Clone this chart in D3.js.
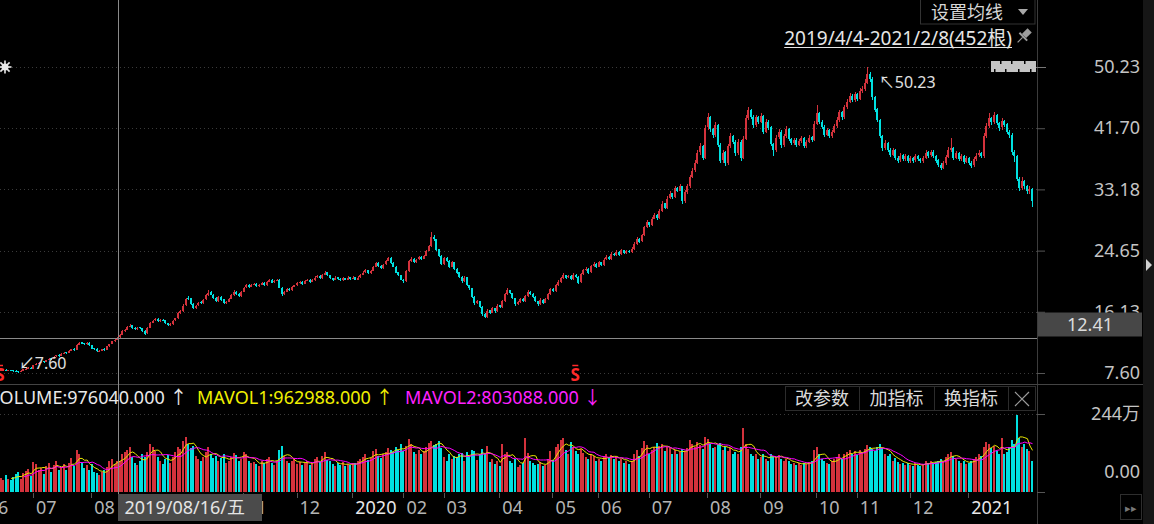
<!DOCTYPE html>
<html>
<head>
<meta charset="utf-8">
<script src="https://cdn.jsdelivr.net/npm/d3@7"></script>
<style>
html, body { margin: 0; padding: 0; background: #000; overflow: hidden; }
svg { display: block; }
text { font-family: "Noto Sans", "Noto Sans CJK SC", sans-serif; }
</style>
</head>
<body>
<svg id="chart" width="1154" height="524"></svg>
<script>
// daily bars, 2019/06/12 .. 2021/02/08 (visible part of the 452 bars)
var opens = [7.90,7.95,8.05,7.92,8.02,7.95,7.88,7.82,7.74,7.92,
8.12,8.18,8.32,8.20,8.75,8.95,9.02,9.25,9.12,9.45,
9.65,9.55,9.90,10.10,9.98,10.28,10.48,10.38,10.72,10.95,
10.85,11.55,11.85,11.72,11.58,11.80,11.45,11.05,10.95,10.58,
10.72,10.95,10.78,11.32,11.62,12.05,12.25,12.55,12.95,13.42,
13.62,14.05,14.25,13.85,13.72,13.95,13.82,13.45,13.12,13.92,
14.62,14.92,15.15,14.82,15.05,14.92,14.55,14.28,14.42,14.92,
15.22,15.95,16.25,17.05,18.10,18.00,17.25,16.62,17.02,17.45,
17.32,17.85,18.42,18.85,18.52,18.05,17.62,18.25,17.85,17.32,
17.52,17.92,18.45,18.95,18.62,18.32,18.92,19.55,19.85,19.62,
19.92,20.05,19.72,19.92,20.15,19.82,20.32,20.55,20.22,20.42,
20.55,19.45,18.62,18.92,19.32,19.12,19.62,19.82,20.12,20.32,
20.02,20.42,20.62,20.32,20.52,20.92,21.12,20.82,21.32,21.62,
21.22,20.82,20.62,20.92,20.72,20.52,20.82,20.62,20.92,20.72,
20.92,20.62,20.92,21.32,21.62,21.92,21.52,21.82,22.42,22.92,
22.52,22.22,22.72,23.22,23.62,22.92,22.42,21.62,21.22,20.62,
20.40,21.80,23.22,23.52,23.02,23.42,23.82,23.52,23.92,24.62,
25.32,26.60,26.22,24.82,23.92,22.82,23.62,23.22,22.42,23.02,
22.12,21.62,21.02,20.42,20.92,19.82,19.42,18.22,17.32,17.62,
16.82,15.82,15.42,16.32,16.02,16.62,16.22,17.02,16.82,17.62,
18.62,19.12,18.72,18.02,17.22,17.52,17.92,17.62,18.32,18.92,
18.62,18.22,17.62,17.22,17.82,17.42,17.92,18.62,19.32,19.02,
19.82,20.32,20.82,21.22,20.92,21.12,20.72,21.32,21.02,20.22,
21.42,21.92,22.12,21.62,22.52,22.82,22.42,23.02,22.62,23.42,
23.82,23.52,24.22,24.02,24.52,24.12,24.72,24.32,24.62,24.42,
24.92,25.62,26.32,25.92,26.82,27.92,28.62,28.22,29.12,29.62,
29.22,30.12,31.22,30.62,31.92,32.62,32.12,33.42,33.02,33.62,
31.52,32.82,33.62,34.92,35.82,36.92,38.32,39.22,37.62,41.82,
43.22,41.62,40.82,42.12,39.42,37.22,38.32,36.82,39.22,40.62,
39.82,38.22,39.82,37.62,40.22,43.12,44.22,43.32,42.12,43.22,
42.62,43.42,41.22,42.62,41.82,39.52,38.62,40.42,41.22,39.32,
40.62,41.62,40.22,39.62,40.12,39.42,39.92,40.32,39.22,39.82,
40.42,40.12,42.32,43.82,42.62,41.92,40.82,41.42,40.62,41.22,
42.02,42.82,43.92,43.22,44.62,45.42,46.22,45.62,46.42,45.82,
46.92,47.12,48.02,49.32,48.62,46.02,44.32,42.82,40.62,38.92,
39.62,38.72,38.02,38.62,37.62,37.22,37.92,37.42,37.82,37.12,
37.52,37.22,37.82,37.42,37.12,37.62,38.32,37.92,38.42,37.82,
37.22,36.62,36.22,36.82,37.72,38.62,38.92,37.62,38.22,37.42,
37.82,37.02,37.52,36.92,36.52,37.42,37.92,38.22,37.82,40.62,
42.02,43.12,42.62,43.52,42.42,41.82,42.72,42.22,41.22,40.82,
38.42,37.82,34.62,33.42,34.32,33.62,32.92,33.22];
var highs = [8.05,8.12,8.10,8.06,8.08,8.00,7.95,7.88,7.96,8.16,
8.28,8.38,8.40,8.78,9.00,9.14,9.28,9.32,9.48,9.70,
9.74,9.92,10.14,10.18,10.34,10.54,10.56,10.78,11.00,11.04,
11.62,11.92,11.96,11.82,11.86,11.88,11.52,11.12,11.02,10.80,
11.00,11.04,11.40,11.70,12.10,12.30,12.62,13.02,13.55,13.75,
14.15,14.40,14.35,13.95,14.05,14.05,13.90,13.55,14.00,14.75,
15.05,15.25,15.25,15.12,15.15,15.00,14.62,14.50,15.00,15.30,
16.05,16.40,17.15,18.10,18.30,18.10,17.40,17.12,17.55,17.60,
17.95,18.55,19.15,19.00,18.60,18.15,18.35,18.35,17.95,17.65,
18.05,18.55,19.10,19.05,18.70,19.05,19.65,19.95,19.95,20.05,
20.15,20.15,20.00,20.25,20.25,20.45,20.65,20.65,20.50,20.75,
20.65,19.55,19.05,19.45,19.40,19.75,19.90,20.25,20.45,20.40,
20.55,20.75,20.70,20.65,21.05,21.25,21.20,21.45,21.85,21.70,
21.30,20.90,21.05,21.00,20.80,20.95,20.90,21.05,21.00,21.05,
21.00,21.05,21.45,21.75,22.05,22.00,21.95,22.55,23.10,23.00,
22.60,22.85,23.40,23.80,23.70,23.00,22.50,21.70,21.30,20.70,
21.95,23.35,23.70,23.60,23.55,23.95,23.90,24.05,24.80,25.50,
27.24,26.80,26.30,24.90,24.00,23.80,23.70,23.30,23.20,23.10,
22.20,21.70,21.10,21.10,21.00,19.90,19.50,18.30,17.80,17.70,
16.90,15.90,16.50,16.40,16.80,16.70,17.20,17.10,17.80,18.80,
19.40,19.20,18.80,18.10,17.70,18.10,18.00,18.50,19.10,19.00,
18.70,18.30,17.70,18.00,17.90,18.10,18.80,19.50,19.40,20.00,
20.50,21.00,21.50,21.30,21.30,21.20,21.50,21.40,21.10,21.60,
22.10,22.30,22.20,22.70,23.00,22.90,23.20,23.10,23.60,24.00,
23.90,24.40,24.30,24.70,24.60,24.90,24.80,24.80,24.70,25.10,
25.80,26.50,26.40,27.00,28.10,28.90,28.70,29.30,29.90,29.70,
30.40,31.50,31.30,32.20,32.90,32.70,33.70,33.50,33.90,33.70,
33.10,33.90,35.20,36.10,37.30,38.70,39.60,39.40,42.20,43.80,
43.40,41.80,42.50,42.30,39.60,38.70,38.50,39.50,41.00,40.80,
40.00,40.20,40.00,40.60,43.50,44.70,44.40,43.50,43.60,43.40,
43.80,43.60,43.00,42.80,42.00,39.70,40.70,41.60,41.40,40.90,
42.00,41.80,40.40,40.40,40.30,40.20,40.60,40.50,40.10,40.70,
40.60,42.70,44.90,44.00,42.80,42.10,41.70,41.60,41.50,42.30,
43.20,44.20,44.10,44.90,45.80,46.60,46.40,46.80,46.60,47.30,
47.60,48.50,50.23,49.60,48.80,46.20,44.50,43.00,40.80,40.00,
39.80,38.90,38.90,38.80,37.80,38.20,38.10,38.10,38.00,37.80,
37.70,38.10,38.00,37.60,37.90,38.60,38.50,38.70,38.60,38.00,
37.40,36.80,37.10,38.00,39.10,40.30,39.10,38.50,38.40,38.10,
38.00,37.80,37.70,37.10,37.70,38.20,38.70,38.40,41.00,42.40,
43.80,43.30,43.90,43.70,42.60,43.10,42.90,42.40,41.40,41.00,
38.60,38.00,34.90,34.90,34.50,33.80,33.60,33.40];
var lows = [7.82,7.90,7.85,7.88,7.90,7.80,7.72,7.60,7.70,7.88,
8.06,8.12,8.10,8.15,8.68,8.88,8.96,9.02,9.08,9.38,
9.48,9.50,9.84,9.88,9.92,10.20,10.28,10.32,10.66,10.72,
10.80,11.46,11.62,11.50,11.52,11.40,10.94,10.82,10.52,10.50,
10.66,10.68,10.74,11.28,11.58,11.98,12.18,12.46,12.88,13.30,
13.55,13.95,13.70,13.60,13.62,13.70,13.30,12.95,13.05,13.85,
14.55,14.85,14.70,14.75,14.82,14.40,14.15,14.20,14.35,14.85,
15.15,15.85,16.15,16.95,17.80,17.05,16.45,16.50,16.95,17.15,
17.25,17.75,18.35,18.40,17.90,17.45,17.55,17.70,17.15,17.20,
17.45,17.85,18.35,18.50,18.15,18.25,18.85,19.50,19.50,19.55,
19.85,19.60,19.65,19.85,19.70,19.75,20.25,20.10,20.15,20.35,
19.40,18.30,18.50,18.85,19.00,19.05,19.55,19.75,20.05,19.90,
19.95,20.35,20.20,20.25,20.45,20.85,20.70,20.75,21.25,21.10,
20.70,20.45,20.55,20.60,20.40,20.45,20.50,20.55,20.60,20.65,
20.50,20.55,20.85,21.25,21.55,21.40,21.45,21.75,22.35,22.40,
22.10,22.15,22.65,23.15,22.80,22.30,21.50,21.10,20.50,20.10,
20.30,21.70,23.10,22.90,22.95,23.35,23.40,23.45,23.85,24.55,
25.20,26.00,24.60,23.70,22.60,22.70,23.00,22.20,22.30,21.95,
21.40,20.85,20.20,20.30,19.70,19.20,18.00,17.10,17.15,16.60,
15.60,15.20,15.30,15.80,15.90,16.00,16.10,16.60,16.70,17.50,
18.50,18.55,17.85,17.00,17.05,17.40,17.45,17.50,18.20,18.45,
18.05,17.45,17.00,17.10,17.25,17.30,17.80,18.50,18.85,18.90,
19.70,20.20,20.70,20.70,20.80,20.50,20.60,20.85,20.00,20.10,
21.30,21.80,21.45,21.50,22.40,22.25,22.30,22.45,22.50,23.30,
23.35,23.40,23.85,23.90,23.95,24.00,24.15,24.20,24.25,24.30,
24.80,25.50,25.70,25.80,26.70,27.80,28.00,28.10,29.00,28.95,
29.10,30.00,30.40,30.50,31.80,31.90,32.00,32.80,32.90,31.20,
31.30,32.60,33.40,34.70,35.60,36.70,38.00,37.30,37.40,41.50,
41.20,40.40,40.50,39.10,36.80,36.90,36.40,36.60,39.00,39.50,
37.90,38.00,37.20,37.40,40.00,42.90,43.00,41.80,41.90,42.30,
42.40,40.90,41.00,41.50,39.20,37.80,38.40,40.20,39.00,39.10,
40.40,39.90,39.30,39.40,39.10,39.20,39.70,38.90,39.00,39.60,
39.80,39.90,42.10,42.30,41.60,40.50,40.60,40.30,40.40,41.00,
41.80,42.60,42.90,43.00,44.40,45.20,45.30,45.40,45.50,45.60,
46.60,46.90,47.80,48.20,45.70,44.00,42.50,40.30,38.50,38.60,
38.40,37.70,37.80,37.30,36.90,37.00,37.10,37.20,36.80,36.90,
36.90,37.00,37.10,36.80,36.90,37.40,37.60,37.70,37.50,36.90,
36.30,35.90,36.00,36.60,37.50,38.40,37.30,37.40,37.10,37.20,
36.70,36.80,36.60,36.20,36.30,37.20,37.70,37.50,37.60,40.30,
41.70,42.20,42.30,42.10,41.30,41.50,41.90,40.90,40.30,38.00,
37.00,34.30,33.00,33.10,33.20,32.60,32.50,30.70];
var closes = [7.95,8.05,7.90,8.00,7.95,7.85,7.80,7.75,7.90,8.10,
8.20,8.30,8.15,8.70,8.90,9.05,9.20,9.10,9.40,9.60,
9.55,9.85,10.05,9.95,10.25,10.45,10.35,10.70,10.90,10.80,
11.50,11.80,11.70,11.60,11.75,11.45,11.00,10.90,10.60,10.70,
10.90,10.75,11.30,11.60,12.00,12.20,12.50,12.90,13.40,13.60,
14.00,14.20,13.80,13.70,13.90,13.80,13.40,13.10,13.90,14.60,
14.90,15.10,14.80,15.00,14.90,14.50,14.30,14.40,14.90,15.20,
15.90,16.20,17.00,17.90,18.00,17.20,16.60,17.00,17.40,17.30,
17.80,18.40,18.80,18.50,18.00,17.60,18.20,17.80,17.30,17.50,
17.90,18.40,18.90,18.60,18.30,18.90,19.50,19.80,19.60,19.90,
20.00,19.70,19.90,20.10,19.80,20.30,20.50,20.20,20.40,20.60,
19.50,18.60,18.90,19.30,19.10,19.60,19.80,20.10,20.30,20.00,
20.40,20.60,20.30,20.50,20.90,21.10,20.80,21.30,21.60,21.20,
20.80,20.60,20.90,20.70,20.50,20.80,20.60,20.90,20.70,20.90,
20.60,20.90,21.30,21.60,21.90,21.50,21.80,22.40,22.90,22.50,
22.20,22.70,23.20,23.60,22.90,22.40,21.60,21.20,20.60,20.40,
21.80,23.20,23.50,23.00,23.40,23.80,23.50,23.90,24.60,25.30,
26.50,26.20,24.80,23.90,22.80,23.60,23.20,22.40,23.00,22.10,
21.60,21.00,20.40,20.90,19.80,19.40,18.20,17.30,17.60,16.80,
15.80,15.40,16.30,16.00,16.60,16.20,17.00,16.80,17.60,18.60,
19.10,18.70,18.00,17.20,17.50,17.90,17.60,18.30,18.90,18.60,
18.20,17.60,17.20,17.80,17.40,17.90,18.60,19.30,19.00,19.80,
20.30,20.80,21.20,20.90,21.10,20.70,21.30,21.00,20.20,21.40,
21.90,22.10,21.60,22.50,22.80,22.40,23.00,22.60,23.40,23.80,
23.50,24.20,24.00,24.50,24.10,24.70,24.30,24.60,24.40,24.90,
25.60,26.30,25.90,26.80,27.90,28.60,28.20,29.10,29.60,29.20,
30.10,31.20,30.60,31.90,32.60,32.10,33.40,33.00,33.60,31.50,
32.80,33.60,34.90,35.80,36.90,38.30,39.20,37.60,41.80,43.20,
41.60,40.80,42.10,39.40,37.20,38.30,36.80,39.20,40.60,39.80,
38.20,39.80,37.60,40.20,43.10,44.20,43.30,42.10,43.20,42.60,
43.40,41.20,42.60,41.80,39.50,38.60,40.40,41.20,39.30,40.60,
41.60,40.20,39.60,40.10,39.40,39.90,40.30,39.20,39.80,40.40,
40.10,42.30,43.80,42.60,41.90,40.80,41.40,40.60,41.20,42.00,
42.80,43.90,43.20,44.60,45.40,46.20,45.60,46.40,45.80,46.90,
47.10,48.00,49.30,48.60,46.00,44.30,42.80,40.60,38.90,39.60,
38.70,38.00,38.60,37.60,37.20,37.90,37.40,37.80,37.10,37.50,
37.20,37.80,37.40,37.10,37.60,38.30,37.90,38.40,37.80,37.20,
36.60,36.20,36.80,37.70,38.60,38.90,37.60,38.20,37.40,37.80,
37.00,37.50,36.90,36.50,37.40,37.90,38.20,37.80,40.60,42.00,
43.10,42.60,43.50,42.40,41.80,42.70,42.20,41.20,40.80,38.40,
37.80,34.60,33.40,34.30,33.60,32.90,33.20,31.50];
// volume, in 万 (10k shares)
var volumes = [45,38,52,41,36,48,55,62,40,58,
66,72,50,95,88,70,76,55,82,90,
64,85,96,68,78,88,70,92,105,80,
130,118,92,76,84,70,88,62,58,54,
62,70,78,96,104,88,96,97.6,118,126,
132,140,110,92,86,98,120,108,125,150,
142,128,110,96,88,104,115,92,108,126,
140,135,160,172,150,138,145,112,104,96,
110,125,140,118,105,112,98,106,120,92,
96,108,122,115,98,104,126,118,96,90,
95,88,82,96,90,104,110,92,86,98,
130,145,112,98,90,96,102,88,94,86,
92,98,84,90,102,108,94,112,125,100,
96,88,82,90,86,94,80,88,84,92,
90,96,104,110,118,100,106,128,135,112,
106,118,126,138,130,124,140,132,150,128,
145,165,150,124,118,132,120,128,140,152,
158,146,150,160,138,110,96,120,104,112,
108,118,122,96,125,112,130,128,100,118,
135,120,145,94,102,88,98,82,150,118,
125,98,92,104,78,86,90,170,122,96,
92,84,88,94,80,86,104,128,100,140,
150,162,170,130,118,156,142,128,118,135,
122,110,102,118,112,96,104,98,112,120,
108,116,102,110,98,104,92,98,88,96,
118,130,112,138,160,148,120,132,142,153,
145,150,128,140,138,120,132,118,126,135,
128,138,163,150,142,156,148,135,172,165,
150,138,142,148,152,130,140,128,138,120,
126,118,140,200,150,136,120,112,118,104,
110,118,104,98,120,112,108,116,104,98,
102,96,88,92,86,90,84,92,88,94,
96,130,142,118,104,98,92,88,96,104,
110,118,104,120,126,132,118,128,116,130,
125,136,148,140,135,128,142,150,138,120,
112,118,98,106,94,88,92,84,90,86,
82,90,86,80,88,96,92,98,90,94,
98,104,96,110,118,126,112,104,98,92,
96,88,92,98,104,110,118,112,142,155,
150,138,145,128,120,168,118,126,140,162,
150,241,168,140,150,135,128,98];

var priceTicks = [50.23, 41.70, 33.18, 24.65, 16.13, 7.60];
var volTicks = [244, 0];
var monthLabels = ["06","07","08","09","10","11","12","2020","02","03","04","05","06","07","08","09","10","11","12","2021"];
var monthIdx = [-6,13,36,58,78,96,117,139,155,175,197,218,236,256,279,300,322,338,359,382];
var volHeader = ["VOLUME:976040.000 \u2191", "MAVOL1:962988.000 \u2191", "MAVOL2:803088.000 \u2193"];
var buttons = ["改参数", "加指标", "换指标"];
var rangeLabel = "2019/4/4-2021/2/8(452根)";
var crossIdx = 47, crossPrice = 12.41, crossDate = "2019/08/16/五";
var sMarks = [0, 227];
var maxIdx = 342, minIdx = 7;

var W = 1154, H = 524, plotR = 1037;
var svg = d3.select("#chart");
svg.append("rect").attr("width", W).attr("height", H).attr("fill", "#000");

var x = d3.scaleLinear().domain([0, closes.length - 1]).range([0, 1031.5]);
var y = d3.scaleLinear().domain([priceTicks[5], priceTicks[0]]).range([373, 67]);
var yv = d3.scaleLinear().domain([0, volTicks[0]]).range([492, 414]);

var UP = "#d4323c", DOWN = "#00e0e0";
var bars = closes.map(function (c, i) {
  return { i: i, o: opens[i], h: highs[i], l: lows[i], c: c, v: volumes[i] };
});
function isUp(d) { return d.c >= d.o; }
function px(i) { return Math.floor(x(i)); }

// right column strip
svg.append("rect").attr("x", 1143).attr("y", 0).attr("width", 11).attr("height", H).attr("fill", "#161616");
svg.append("path").attr("d", "M1146,259 L1152,265 L1146,271 Z").attr("fill", "#d0d0d0");

// dotted grid
svg.append("g").selectAll("line").data(priceTicks).enter().append("line")
  .attr("x1", 0).attr("x2", plotR).attr("y1", d => Math.round(y(d)) + 0.5).attr("y2", d => Math.round(y(d)) + 0.5)
  .attr("stroke", "#3a3a3a").attr("stroke-dasharray", "1,3");
svg.append("line").attr("x1", 0).attr("x2", plotR).attr("y1", Math.round(yv(volTicks[0])) + 0.5).attr("y2", Math.round(yv(volTicks[0])) + 0.5)
  .attr("stroke", "#3a3a3a").attr("stroke-dasharray", "1,3");

// panel lines
svg.append("line").attr("x1", plotR + 0.5).attr("x2", plotR + 0.5).attr("y1", 0).attr("y2", H).attr("stroke", "#3c3c3c");
svg.append("line").attr("x1", 0).attr("x2", 1143).attr("y1", 384.5).attr("y2", 384.5).attr("stroke", "#444");

var clip = svg.append("defs").append("clipPath").attr("id", "plot");
clip.append("rect").attr("x", 0).attr("y", 0).attr("width", plotR).attr("height", 493);
var plot = svg.append("g").attr("clip-path", "url(#plot)").attr("shape-rendering", "crispEdges");

// candles
plot.append("g").selectAll("line").data(bars).enter().append("line")
  .attr("x1", d => px(d.i) + 1).attr("x2", d => px(d.i) + 1)
  .attr("y1", d => y(d.h)).attr("y2", d => y(d.l))
  .attr("stroke", d => isUp(d) ? UP : DOWN);
plot.append("g").selectAll("rect").data(bars).enter().append("rect")
  .attr("x", d => px(d.i)).attr("width", 2)
  .attr("y", d => y(Math.max(d.o, d.c)))
  .attr("height", d => Math.max(1, Math.abs(y(d.o) - y(d.c))))
  .attr("fill", d => isUp(d) ? UP : DOWN);

// volume bars
plot.append("g").selectAll("rect").data(bars).enter().append("rect")
  .attr("x", d => px(d.i)).attr("width", 2)
  .attr("y", d => yv(d.v)).attr("height", d => yv(0) - yv(d.v))
  .attr("fill", d => isUp(d) ? UP : DOWN);

// volume moving averages
function ma(n) {
  return volumes.map(function (v, i) {
    if (i < n - 1) return null;
    return d3.mean(volumes.slice(i - n + 1, i + 1));
  });
}
var lineGen = d3.line().defined(d => d != null).x((d, i) => x(i) + 1).y(d => yv(d));
var plotSmooth = svg.append("g").attr("clip-path", "url(#plot)");
plotSmooth.append("path").datum(ma(5)).attr("d", lineGen).attr("fill", "none").attr("stroke", "#e8e800").attr("stroke-width", 1);
plotSmooth.append("path").datum(ma(10)).attr("d", lineGen).attr("fill", "none").attr("stroke", "#ff00ff").attr("stroke-width", 1);

// price axis
var ya = svg.append("g").attr("transform", "translate(" + plotR + ",0)")
  .call(d3.axisRight(y).tickValues(priceTicks).tickSize(8).tickFormat(d3.format(".2f")));
ya.select(".domain").remove();
ya.selectAll(".tick line").attr("stroke", "#555");
ya.selectAll(".tick text").attr("x", 103).attr("text-anchor", "end").attr("fill", "#c4c4c4")
  .style("font-size", "18px").style("font-family", "Noto Sans");

// volume axis
var va = svg.append("g").attr("transform", "translate(" + plotR + ",0)")
  .call(d3.axisRight(yv).tickValues(volTicks).tickSize(8).tickFormat(d => d === 0 ? "0.00" : d + "万"));
va.select(".domain").remove();
va.selectAll(".tick line").attr("stroke", "#555");
va.selectAll(".tick text").attr("x", 103).attr("text-anchor", "end").attr("fill", "#c4c4c4")
  .style("font-size", "18px").attr("dy", d => d === 0 ? "-0.8em" : "0.32em");

// max / min annotations
var maxB = bars[maxIdx], minB = bars[minIdx];
svg.append("text").attr("x", x(maxIdx) + 12).attr("y", y(maxB.h) + 21).attr("fill", "#e0e0e0").style("font-size", "16px").text("\u2196" + maxB.h.toFixed(2));
svg.append("text").attr("x", x(minIdx) + 1).attr("y", y(minB.l) - 4).attr("fill", "#e0e0e0").style("font-size", "16px").text("\u2199" + minB.l.toFixed(2));

// marker at left of top line
var star = svg.append("g").attr("transform", "translate(5," + y(priceTicks[0]) + ")").attr("stroke", "#e8e8e8").attr("stroke-width", 1.6);
d3.range(8).forEach(function (k) {
  var a = k * Math.PI / 4;
  star.append("line").attr("x1", 2 * Math.cos(a)).attr("y1", 2 * Math.sin(a)).attr("x2", 6.5 * Math.cos(a)).attr("y2", 6.5 * Math.sin(a));
});
star.append("circle").attr("r", 3.5).attr("fill", "#e8e8e8").attr("stroke", "none");

// blurred label block near top line
var blk = svg.append("g").attr("transform", "translate(991," + (y(priceTicks[0]) - 6) + ")");
blk.append("rect").attr("width", 45).attr("height", 11).attr("fill", "#c4c4c4");
[3, 9, 14, 20, 27, 33, 39].forEach(function (k, j) {
  blk.append("rect").attr("x", k).attr("y", j % 2 ? 0 : 8).attr("width", 1.5).attr("height", 3).attr("fill", "#000");
});
svg.append("line").attr("x1", 1036).attr("x2", 1046).attr("y1", y(priceTicks[0]) + 0.5).attr("y2", y(priceTicks[0]) + 0.5).attr("stroke", "#777");

// S markers
sMarks.forEach(function (i) {
  svg.append("text").attr("x", x(i)).attr("y", y(priceTicks[5]) + 8).attr("text-anchor", "middle")
    .attr("fill", "#ff2a2a").style("font-size", "17px").style("font-weight", "bold").text("S");
  svg.append("line").attr("x1", x(i) - 3).attr("x2", x(i) + 3).attr("y1", y(priceTicks[5]) - 7.5).attr("y2", y(priceTicks[5]) - 7.5)
    .attr("stroke", "#ff2a2a").attr("stroke-width", 1.5);
});

// crosshair
var cx = Math.round(x(crossIdx)) - 0.5, cy = Math.round(y(crossPrice)) + 0.5;
svg.append("line").attr("x1", cx).attr("x2", cx).attr("y1", 0).attr("y2", 494).attr("stroke", "#8a8a8a");
svg.append("line").attr("x1", 0).attr("x2", plotR).attr("y1", cy).attr("y2", cy).attr("stroke", "#8a8a8a");
svg.append("rect").attr("x", 1038).attr("y", cy - 26).attr("width", 104).attr("height", 24).attr("fill", "#474747");
svg.append("text").attr("x", 1090).attr("y", cy - 14).attr("dy", "0.35em").attr("text-anchor", "middle")
  .attr("fill", "#dcdcdc").style("font-size", "18px").text(crossPrice.toFixed(2));

// time axis (labels fully hidden by the cursor date box are left out)
var boxW = 144;
var ta = svg.append("g");
var prevEnd = -100;
monthLabels.forEach(function (lab, k) {
  var tx = x(monthIdx[k]);
  var isYear = lab.length === 4;
  var t = ta.append("text").attr("y", 514).attr("fill", isYear ? "#e8e8e8" : "#b4b4b4").style("font-size", "18px").text(lab);
  var wdt = t.node().getComputedTextLength();
  if (tx + 3 < prevEnd + 10) tx = prevEnd + 7;
  t.attr("x", tx + 3);
  prevEnd = tx + 3 + wdt;
  if (tx + 3 > cx && prevEnd < cx + boxW - 2) { t.remove(); return; }
  ta.append("line").attr("x1", Math.round(tx) + 0.5).attr("x2", Math.round(tx) + 0.5).attr("y1", 493).attr("y2", 498).attr("stroke", "#555");
});
svg.append("rect").attr("x", cx - 0.5).attr("y", 494).attr("width", boxW).attr("height", 27).attr("fill", "#4b4b4b");
svg.append("text").attr("x", cx + 6).attr("y", 514).attr("fill", "#e4e4e4").style("font-size", "18px").text(crossDate);
svg.append("rect").attr("x", 1120.5).attr("y", 494.5).attr("width", 21).attr("height", 25).attr("fill", "none").attr("stroke", "#2e2e2e");
svg.append("text").attr("x", 1131).attr("y", 512).attr("text-anchor", "middle").attr("fill", "#777").style("font-size", "11px").text("\u25B8\u25B8");

// volume header
var vx = [-11, 197, 405], vc = ["#e8e8e8", "#f0f000", "#ff22ff"];
volHeader.forEach(function (s, k) {
  svg.append("text").attr("x", vx[k]).attr("y", 404).attr("fill", vc[k]).style("font-size", "18px").text(s);
});
var bx = [785, 859, 934, 1008, 1035];
svg.append("g").selectAll("rect").data(d3.range(4)).enter().append("rect")
  .attr("x", k => bx[k] + 0.5).attr("y", 386.5).attr("width", k => bx[k + 1] - bx[k]).attr("height", 24)
  .attr("fill", "none").attr("stroke", "#2c2c2c");
buttons.forEach(function (s, k) {
  svg.append("text").attr("x", (bx[k] + bx[k + 1]) / 2).attr("y", 405).attr("text-anchor", "middle")
    .attr("fill", "#dadada").style("font-size", "18px").text(s);
});
svg.append("path").attr("d", "M1015,392 L1029,406 M1029,392 L1015,406").attr("stroke", "#9a9a9a").attr("stroke-width", 1.2);

// top right controls
svg.append("rect").attr("x", 920.5).attr("y", -1).attr("width", 114.5).attr("height", 25).attr("fill", "none").attr("stroke", "#333");
svg.append("text").attr("x", 931).attr("y", 19).attr("fill", "#d6d6d6").style("font-size", "18px").text("设置均线");
svg.append("path").attr("d", "M1018,9 L1028,9 L1023,15 Z").attr("fill", "#a8a8a8");
var rt = svg.append("text").attr("x", 1012).attr("y", 45).attr("text-anchor", "end").attr("fill", "#e6e6e6").style("font-size", "19px").text(rangeLabel);
var rw = rt.node().getComputedTextLength();
svg.append("line").attr("x1", 1012 - rw).attr("x2", 1012).attr("y1", 47.5).attr("y2", 47.5).attr("stroke", "#e6e6e6");
// pin icon
var pin = svg.append("g").attr("transform", "translate(1024,36) rotate(45)").attr("fill", "#9c9c9c");
pin.append("rect").attr("x", -3).attr("y", -8).attr("width", 6).attr("height", 8);
pin.append("rect").attr("x", -5.5).attr("y", 0).attr("width", 11).attr("height", 2);
pin.append("rect").attr("x", -0.6).attr("y", 2).attr("width", 1.2).attr("height", 7);
</script>
</body>
</html>
